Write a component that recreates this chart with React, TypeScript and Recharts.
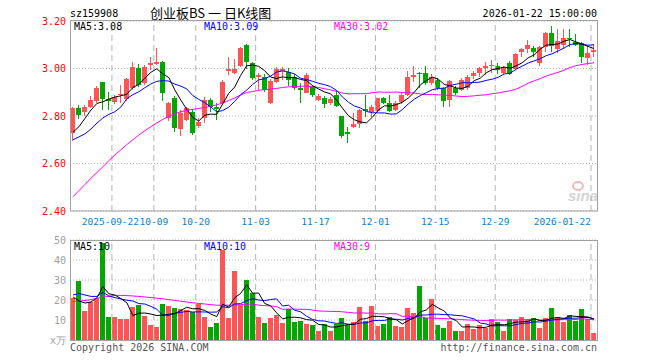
import React from 'react';
import { ComposedChart, Bar, Line, XAxis, YAxis, CartesianGrid, ReferenceLine } from 'recharts';

const dates = [
  '09-11', '09-12', '09-15', '09-16', '09-17', '09-18', '09-19', '09-22', '09-23', '09-24', '09-25', '09-26', '09-29', '09-30',
  '10-09', '10-10', '10-13', '10-14', '10-15', '10-16', '10-17', '10-20', '10-21', '10-22', '10-23', '10-24', '10-27', '10-28', '10-29', '10-30', '10-31',
  '11-03', '11-04', '11-05', '11-06', '11-07', '11-10', '11-11', '11-12', '11-13', '11-14', '11-17', '11-18', '11-19', '11-20', '11-21', '11-24', '11-25', '11-26', '11-27', '11-28',
  '12-01', '12-02', '12-03', '12-04', '12-05', '12-08', '12-09', '12-10', '12-11', '12-12', '12-15', '12-16', '12-17', '12-18', '12-19', '12-22', '12-23', '12-24', '12-25', '12-26', '12-29', '12-30', '12-31',
  '01-05', '01-06', '01-07', '01-08', '01-09', '01-12', '01-13', '01-14', '01-15', '01-16', '01-19', '01-20', '01-21', '01-22',
];

const opens = [
  2.727, 2.835, 2.817, 2.837, 2.864, 2.943, 2.872, 2.859, 2.888, 2.870,
  2.917, 3.001, 2.938, 3.016, 3.019, 3.029, 2.790, 2.877, 2.744, 2.785,
  2.816, 2.758, 2.790, 2.867, 2.839, 2.853, 2.991, 2.983, 3.011, 3.100,
  3.022, 2.963, 2.966, 2.856, 2.945, 2.990, 2.985, 2.966, 2.918, 2.898,
  2.925, 2.867, 2.874, 2.853, 2.888, 2.800, 2.734, 2.753, 2.766, 2.828,
  2.815, 2.820, 2.875, 2.853, 2.825, 2.857, 2.888, 2.963, 2.982, 2.980,
  2.937, 2.952, 2.917, 2.867, 2.917, 2.910, 2.920, 2.967, 2.980, 3.001,
  3.012, 3.011, 2.982, 3.024, 2.998, 3.068, 3.081, 3.085, 3.025, 3.092,
  3.150, 3.081, 3.100, 3.130, 3.110, 3.108, 3.043, 3.071,
];
const highs = [
  2.840, 2.846, 2.846, 2.884, 2.926, 2.945, 2.902, 2.890, 2.930, 2.960,
  3.029, 3.019, 3.015, 3.047, 3.088, 3.032, 2.860, 2.884, 2.825, 2.840,
  2.830, 2.790, 2.881, 2.874, 2.855, 2.950, 3.050, 3.040, 3.090, 3.102,
  3.029, 2.980, 2.975, 2.955, 3.008, 3.005, 3.002, 2.975, 2.940, 2.980,
  2.930, 2.892, 2.885, 2.880, 2.909, 2.800, 2.752, 2.812, 2.830, 2.890,
  2.846, 2.877, 2.878, 2.888, 2.862, 2.895, 2.990, 3.010, 2.984, 3.010,
  2.975, 2.960, 2.923, 2.952, 2.925, 2.960, 2.972, 2.990, 3.006, 3.027,
  3.035, 3.022, 3.012, 3.030, 3.064, 3.085, 3.120, 3.095, 3.095, 3.155,
  3.180, 3.165, 3.165, 3.165, 3.145, 3.110, 3.100, 3.103,
];
const lows = [
  2.696, 2.787, 2.800, 2.832, 2.855, 2.825, 2.825, 2.850, 2.853, 2.865,
  2.909, 2.923, 2.930, 2.994, 3.015, 2.862, 2.780, 2.734, 2.717, 2.780,
  2.722, 2.750, 2.769, 2.818, 2.785, 2.850, 2.973, 2.975, 3.005, 3.000,
  2.952, 2.910, 2.900, 2.850, 2.938, 2.950, 2.925, 2.910, 2.855, 2.895,
  2.882, 2.862, 2.832, 2.845, 2.837, 2.706, 2.685, 2.748, 2.748, 2.797,
  2.797, 2.815, 2.850, 2.818, 2.820, 2.852, 2.885, 2.945, 2.920, 2.930,
  2.930, 2.910, 2.837, 2.840, 2.890, 2.905, 2.910, 2.955, 2.966, 2.973,
  2.980, 2.976, 2.978, 2.972, 2.995, 3.047, 3.064, 3.050, 3.010, 3.070,
  3.070, 3.065, 3.085, 3.092, 3.095, 3.022, 3.015, 3.050,
];
const closes = [
  2.835, 2.806, 2.837, 2.867, 2.919, 2.870, 2.864, 2.881, 2.893, 2.954,
  3.008, 2.930, 3.008, 3.022, 3.029, 2.896, 2.853, 2.748, 2.811, 2.833,
  2.727, 2.776, 2.867, 2.837, 2.828, 2.945, 2.998, 3.000, 3.085, 3.029,
  2.961, 2.972, 2.910, 2.948, 2.998, 2.997, 2.952, 2.917, 2.908, 2.973,
  2.888, 2.884, 2.851, 2.872, 2.842, 2.714, 2.726, 2.766, 2.827, 2.820,
  2.837, 2.874, 2.855, 2.822, 2.853, 2.888, 2.963, 2.973, 2.978, 2.941,
  2.966, 2.917, 2.864, 2.949, 2.896, 2.953, 2.966, 2.979, 3.003, 3.011,
  3.015, 2.994, 3.008, 2.975, 3.062, 3.082, 3.100, 3.068, 3.092, 3.148,
  3.095, 3.114, 3.128, 3.125, 3.100, 3.050, 3.064, 3.080,
];

const ma5 = [
  2.732, 2.755, 2.790, 2.825, 2.853, 2.860, 2.871, 2.880, 2.885, 2.892,
  2.920, 2.933, 2.959, 2.984, 2.999, 2.977, 2.962, 2.910, 2.867, 2.828,
  2.794, 2.779, 2.803, 2.808, 2.807, 2.851, 2.895, 2.922, 2.971, 3.011,
  3.015, 3.009, 2.991, 2.964, 2.958, 2.965, 2.961, 2.962, 2.954, 2.949,
  2.928, 2.914, 2.901, 2.894, 2.867, 2.833, 2.801, 2.784, 2.775, 2.771,
  2.795, 2.825, 2.843, 2.842, 2.848, 2.858, 2.876, 2.900, 2.931, 2.949,
  2.964, 2.955, 2.933, 2.927, 2.918, 2.916, 2.926, 2.949, 2.959, 2.982,
  2.995, 3.000, 3.006, 3.001, 3.011, 3.024, 3.045, 3.057, 3.081, 3.098,
  3.101, 3.103, 3.115, 3.122, 3.112, 3.103, 3.093, 3.084,
];
const ma10 = [
  2.700, 2.712, 2.725, 2.745, 2.770, 2.792, 2.807, 2.818, 2.838, 2.873,
  2.890, 2.902, 2.919, 2.935, 2.946, 2.949, 2.947, 2.934, 2.926, 2.914,
  2.886, 2.870, 2.856, 2.838, 2.818, 2.823, 2.837, 2.862, 2.890, 2.909,
  2.933, 2.952, 2.957, 2.968, 2.985, 2.990, 2.985, 2.977, 2.959, 2.954,
  2.946, 2.938, 2.932, 2.924, 2.908, 2.880, 2.858, 2.842, 2.834, 2.819,
  2.814, 2.813, 2.813, 2.808, 2.809, 2.827, 2.851, 2.871, 2.886, 2.898,
  2.911, 2.916, 2.917, 2.929, 2.934, 2.940, 2.940, 2.941, 2.943, 2.950,
  2.955, 2.963, 2.977, 2.980, 2.997, 3.010, 3.023, 3.032, 3.041, 3.054,
  3.062, 3.074, 3.086, 3.101, 3.105, 3.102, 3.098, 3.100,
];
const ma30 = [
  2.460, 2.486, 2.512, 2.538, 2.562, 2.587, 2.612, 2.636, 2.658, 2.680,
  2.700, 2.720, 2.738, 2.755, 2.771, 2.786, 2.798, 2.810, 2.818, 2.824,
  2.828, 2.832, 2.836, 2.841, 2.847, 2.855, 2.865, 2.876, 2.888, 2.899,
  2.903, 2.908, 2.911, 2.913, 2.916, 2.920, 2.923, 2.924, 2.925, 2.926,
  2.922, 2.920, 2.915, 2.910, 2.904, 2.897, 2.893, 2.894, 2.894, 2.894,
  2.898, 2.901, 2.900, 2.900, 2.901, 2.899, 2.898, 2.897, 2.893, 2.890,
  2.891, 2.889, 2.887, 2.887, 2.884, 2.882, 2.883, 2.885, 2.888, 2.889,
  2.894, 2.897, 2.902, 2.906, 2.913, 2.925, 2.938, 2.948, 2.957, 2.968,
  2.976, 2.984, 2.993, 3.004, 3.012, 3.017, 3.021, 3.024,
];

// volume, 万手
const volumes = [
  20.8, 29.7, 14.7, 19.2, 21.2, 48.7, 11.7, 11.7, 10.3, 10.7,
  16.7, 17.5, 12.2, 7.7, 6.7, 18.2, 17.0, 16.2, 15.5, 15.0,
  14.2, 17.8, 11.5, 6.7, 8.3, 45.0, 11.2, 34.5, 17.5, 30.0,
  23.7, 11.7, 8.7, 11.2, 12.5, 8.7, 15.3, 9.2, 9.7, 8.0,
  7.5, 4.7, 7.8, 4.5, 8.0, 11.2, 7.5, 8.8, 16.5, 9.7,
  17.0, 7.0, 8.0, 11.5, 7.0, 6.5, 16.2, 13.7, 27.2, 11.2,
  20.5, 7.5, 6.0, 9.7, 4.7, 4.7, 8.0, 5.5, 7.5, 6.2,
  10.5, 9.0, 4.7, 10.5, 10.0, 11.5, 10.0, 11.0, 6.2, 11.0,
  16.2, 11.5, 9.2, 12.5, 9.7, 15.5, 10.5, 3.7,
];
const volMa5 = [
  21.5, 19.5, 18.5, 19.0, 21.1, 26.7, 23.1, 22.5, 20.7, 18.6,
  12.2, 13.4, 13.5, 13.0, 12.2, 12.5, 12.4, 13.2, 14.7, 16.4,
  15.6, 15.7, 14.8, 13.0, 11.7, 17.9, 16.5, 21.1, 23.3, 27.6,
  23.4, 23.5, 18.3, 17.1, 13.6, 10.6, 11.3, 11.4, 11.1, 10.2,
  9.9, 7.8, 7.5, 6.5, 6.5, 7.2, 7.8, 8.0, 10.4, 10.7,
  11.9, 11.8, 11.6, 10.6, 10.1, 8.0, 9.8, 11.0, 14.1, 15.0,
  17.8, 16.0, 14.5, 11.0, 9.7, 6.5, 6.6, 6.5, 6.1, 6.4,
  7.5, 7.7, 7.6, 8.2, 8.9, 9.1, 9.3, 10.6, 9.7, 9.9,
  10.9, 11.2, 10.8, 12.1, 11.8, 11.7, 11.5, 10.4,
];
const volMa10 = [
  22.5, 23.3, 22.5, 21.8, 21.8, 23.8, 22.0, 21.2, 20.5, 19.9,
  19.5, 18.2, 18.0, 16.8, 15.4, 12.3, 12.9, 13.3, 13.8, 14.3,
  14.0, 14.1, 14.0, 13.9, 14.0, 16.7, 16.1, 18.0, 18.2, 19.7,
  20.6, 20.0, 19.7, 20.2, 20.6, 17.0, 17.4, 14.9, 14.1, 11.9,
  10.3, 9.6, 9.5, 8.8, 8.3, 8.6, 7.8, 7.8, 8.5, 8.6,
  9.6, 9.8, 9.8, 10.5, 10.4, 10.0, 10.8, 11.3, 12.4, 12.5,
  12.9, 12.9, 12.7, 12.6, 12.3, 12.1, 11.3, 10.5, 8.5, 8.0,
  7.0, 7.2, 7.1, 7.1, 7.7, 8.3, 8.5, 9.1, 9.0, 9.4,
  10.0, 10.3, 10.7, 10.9, 10.9, 11.3, 11.3, 10.6,
];
const volMa30 = [
  19.2, 19.5, 19.8, 20.2, 20.8, 21.5, 21.8, 22.3, 22.3, 22.2,
  22.0, 21.8, 21.5, 21.2, 20.9, 20.6, 20.2, 19.8, 19.4, 19.0,
  18.6, 18.3, 18.0, 17.7, 17.4, 17.4, 17.4, 17.5, 17.7, 17.9,
  18.0, 17.4, 17.2, 17.0, 16.7, 15.3, 15.5, 15.4, 15.4, 15.3,
  15.0, 14.5, 14.4, 14.3, 14.3, 14.1, 13.8, 13.5, 13.6, 13.4,
  13.5, 13.1, 13.0, 13.2, 13.1, 11.8, 12.0, 11.3, 11.6, 11.0,
  10.9, 10.8, 10.7, 10.6, 10.4, 10.2, 10.0, 9.9, 9.8, 9.7,
  9.8, 10.0, 9.9, 10.1, 10.1, 10.1, 10.2, 10.3, 10.0, 10.0,
  10.0, 10.1, 10.2, 10.2, 10.3, 10.6, 10.4, 10.1,
];

const gridDates = ['09-22', '10-09', '10-20', '11-03', '11-17', '12-01', '12-15', '12-29', '01-22'];
const gridLabels = ['2025-09-22', '10-09', '10-20', '11-03', '11-17', '12-01', '12-15', '12-29', '2026-01-22'];
const priceTicks = [2.4, 2.6, 2.8, 3.0, 3.2];
const volTicks = [0, 10, 20, 30, 40, 50];

const rows = dates.map((date, i) => ({
  date,
  open: opens[i],
  high: highs[i],
  low: lows[i],
  close: closes[i],
  vol: volumes[i],
  ma5: ma5[i],
  ma10: ma10[i],
  ma30: ma30[i],
  vma5: volMa5[i],
  vma10: volMa10[i],
  vma30: volMa30[i],
}));

const W = 660;
const LEFT = 70;
const RIGHT = 597;
const P_TOP = 21;
const P_BOTTOM = 211;
const V_TOP = 240;
const V_BOTTOM = 340;

const RED = '#ff5454';
const GREEN = '#00a800';
const MONO = '"DejaVu Sans Mono", "Liberation Mono", monospace';
const GRID = '#b4b4b4';

const Candle = (props: any) => {
  const { x, y, width, height, payload } = props;
  if (!payload || height == null) return <g />;
  const { open: o, close: c, high: h, low: l } = payload;
  const color = c >= o ? RED : GREEN;
  const toY = (v: number) => y + ((h - v) / (h - l)) * height;
  const left = Math.round(x);
  const w = Math.round(width);
  const mid = left + Math.floor(w / 2) + 0.5;
  const top = Math.round(toY(Math.max(o, c)));
  const bot = Math.round(toY(Math.min(o, c)));
  return (
    <g>
      <line x1={mid} x2={mid} y1={Math.round(toY(h))} y2={Math.round(toY(l))} stroke={color} strokeWidth={1} />
      <rect x={left} y={top} width={w} height={Math.max(1, bot - top)} fill={color} />
    </g>
  );
};

const VolBar = (props: any) => {
  const { x, y, width, height, payload } = props;
  if (!payload) return <g />;
  const top = Math.round(y);
  const bottom = Math.round(y + height);
  return (
    <rect
      x={Math.round(x)}
      y={top}
      width={Math.round(width)}
      height={Math.max(0, bottom - top)}
      fill={payload.close >= payload.open ? RED : GREEN}
    />
  );
};

const DateTick = (props: any) => {
  const { x, y, payload } = props;
  const k = gridDates.indexOf(payload.value);
  if (k < 0) return <g />;
  const last = k === gridDates.length - 1;
  const shift = k === 0 ? -4.5 : -3;
  return (
    <text x={x + shift} y={y} dy={8} textAnchor={last ? 'end' : 'middle'} fill="#0a7fd0" fontSize={9.5} fontFamily={MONO}>
      {gridLabels[k]}
    </text>
  );
};

const VolTick = (props: any) => {
  const { x, y, payload } = props;
  return (
    <text x={x} y={y} dy={4} textAnchor="end" fill="#a0a0a0" fontSize={10} fontFamily={MONO}>
      {payload.value === 0 ? 'x万' : payload.value}
    </text>
  );
};

const gridLines = gridDates.map((d) => (
  <ReferenceLine key={d} x={d} position="start" stroke={GRID} strokeDasharray="6 4" ifOverflow="visible" />
));

export default function App() {
  return (
    <div style={{ position: 'absolute', left: 0, top: 0, width: W, height: 360, background: '#fff', overflow: 'hidden' }}>
      <div style={{ position: 'absolute', left: 0, top: 0 }}>
        <ComposedChart
          width={W}
          height={P_BOTTOM + 21}
          data={rows}
          margin={{ top: P_TOP, right: W - RIGHT, bottom: 2, left: LEFT - 30 }}
        >
          <CartesianGrid vertical={false} stroke={GRID} strokeDasharray="1 2" />
          <XAxis
            dataKey="date"
            interval={0}
            tick={<DateTick />}
            tickLine={false}
            axisLine={false}
            tickSize={4}
            tickMargin={2}
            height={19}
          />
          <YAxis
            domain={[2.4, 3.2]}
            ticks={priceTicks}
            interval={0}
            allowDataOverflow
            width={30}
            tickLine={false}
            axisLine={false}
            tickSize={2}
            tickMargin={2}
            tickFormatter={(v: number) => v.toFixed(2)}
            tick={{ fill: '#ff0000', fontSize: 10, fontFamily: MONO }}
          />
          {gridLines}
          <Bar dataKey={(d: any) => [d.low, d.high]} barSize={5} shape={<Candle />} isAnimationActive={false} />
          <Line dataKey="ma30" stroke="#ff00ff" strokeWidth={1} dot={false} activeDot={false} isAnimationActive={false} />
          <Line dataKey="ma10" stroke="#0000ff" strokeWidth={1} dot={false} activeDot={false} isAnimationActive={false} />
          <Line dataKey="ma5" stroke="#000000" strokeWidth={1} dot={false} activeDot={false} isAnimationActive={false} />
        </ComposedChart>
      </div>
      <div style={{ position: 'absolute', left: 0, top: V_TOP - 10 }}>
        <ComposedChart
          width={W}
          height={V_BOTTOM - V_TOP + 30}
          data={rows}
          margin={{ top: 10, right: W - RIGHT, bottom: 20, left: LEFT - 30 }}
        >
          <CartesianGrid vertical={false} stroke={GRID} strokeDasharray="1 2" />
          <XAxis dataKey="date" hide />
          <YAxis
            domain={[0, 50]}
            ticks={volTicks}
            interval={0}
            allowDataOverflow
            width={30}
            tickLine={false}
            axisLine={false}
            tickSize={2}
            tickMargin={2}
            tick={<VolTick />}
          />
          {gridLines}
          <Bar dataKey="vol" barSize={5} shape={<VolBar />} isAnimationActive={false} />
          <Line dataKey="vma30" stroke="#ff00ff" strokeWidth={1} dot={false} activeDot={false} isAnimationActive={false} />
          <Line dataKey="vma10" stroke="#0000ff" strokeWidth={1} dot={false} activeDot={false} isAnimationActive={false} />
          <Line dataKey="vma5" stroke="#000000" strokeWidth={1} dot={false} activeDot={false} isAnimationActive={false} />
        </ComposedChart>
      </div>
      <svg width={W} height={360} style={{ position: 'absolute', left: 0, top: 0, pointerEvents: 'none' }}>
        <rect x={LEFT + 0.5} y={P_TOP - 0.5} width={RIGHT - LEFT} height={P_BOTTOM - P_TOP + 0.5} fill="none" stroke="#a0a0a0" />
        <rect x={LEFT + 0.5} y={V_TOP + 0.5} width={RIGHT - LEFT} height={V_BOTTOM - V_TOP} fill="none" stroke="#a0a0a0" />
        <g fontFamily={MONO} fontSize={10}>
          <text x={LEFT} y={17} fill="#000">sz159908</text>
          <text x={RIGHT} y={17} fill="#000" textAnchor="end">2026-01-22 15:00:00</text>
          <text x={74} y={30} fill="#000">MA5:3.08</text>
          <text x={204} y={30} fill="#0000ff">MA10:3.09</text>
          <text x={334} y={30} fill="#ff00ff">MA30:3.02</text>
          <text x={74} y={250} fill="#000">MA5:10</text>
          <text x={204} y={250} fill="#0000ff">MA10:10</text>
          <text x={334} y={250} fill="#ff00ff">MA30:9</text>
          <text x={LEFT} y={351} fill="#555">Copyright 2026 SINA.COM</text>
          <text x={RIGHT} y={351} fill="#555" textAnchor="end">http://finance.sina.com.cn</text>
        </g>
        <text x={150} y={18} fontFamily='"Noto Sans CJK SC", sans-serif' fontSize={13} fill="#000" style={{ whiteSpace: 'pre' }}>
          创业板BS 一 日K线图
        </text>
        <g opacity={0.55}>
          <ellipse cx={578} cy={186} rx={5} ry={4} fill="none" stroke="#f08080" strokeWidth={2} />
          <text x={598} y={201} textAnchor="end" fontFamily="Arial, sans-serif" fontStyle="italic" fontWeight="bold" fontSize={15} fill="#b0b0b0">
            sina
          </text>
        </g>
      </svg>
    </div>
  );
}
